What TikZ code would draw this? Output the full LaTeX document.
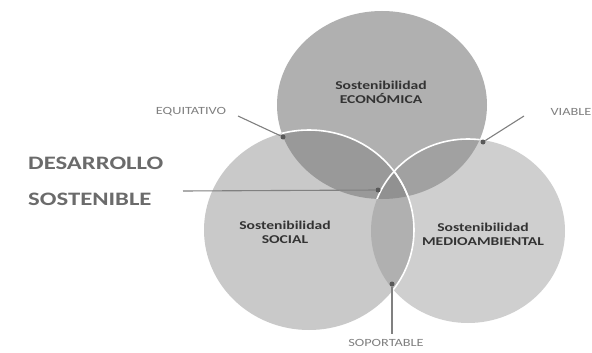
\documentclass[tikz,border=0pt]{standalone}
\usepackage{fontspec}
\setmainfont{Carlito}[FakeStretch=1.3]
\definecolor{ctop}{gray}{0.69}
\definecolor{cleft}{gray}{0.79}
\definecolor{cright}{gray}{0.81}
\definecolor{ctl}{gray}{0.60}
\definecolor{ctr}{gray}{0.63}
\definecolor{clr}{gray}{0.69}
\definecolor{ccen}{gray}{0.57}
\definecolor{ctxt}{gray}{0.2}
\definecolor{cbig}{gray}{0.42}
\definecolor{csmall}{gray}{0.5}
\definecolor{cline}{gray}{0.5}
\newcommand\TopC{(382,105) ellipse [x radius=105, y radius=94]}
\newcommand\LeftC{(309,230) ellipse [x radius=105, y radius=100]}
\newcommand\RightC{(468,231) ellipse [x radius=97, y radius=92]}
\begin{document}
\begin{tikzpicture}[x=1pt,y=-1pt,
  circlabel/.style={align=center, text=ctxt, font=\fontsize{12}{14}\selectfont\bfseries, inner sep=0pt},
  smalllabel/.style={text=csmall, font=\fontsize{11}{12}\selectfont, inner sep=1pt},
  biglabel/.style={text=cbig, align=left, font=\fontsize{19}{36}\selectfont\bfseries, inner sep=0pt},
  pointer/.style={draw=cline, line width=1.1pt},
  dot/.style={circle, fill=gray!70!black, minimum size=5pt, inner sep=0pt},
  edgeline/.style={draw=white, line width=1.6pt}]
\useasboundingbox (0,0) rectangle (592,353);
\fill[white] (0,0) rectangle (592,353);
% circles
\fill[ctop] \TopC;
\fill[cright] \RightC;
\fill[cleft] \LeftC;
\begin{scope}\clip \TopC; \fill[ctl] \LeftC; \fill[ctr] \RightC; \end{scope}
\begin{scope}\clip \LeftC; \fill[clr] \RightC; \end{scope}
\begin{scope}\clip \TopC; \clip \LeftC; \fill[ccen] \RightC; \end{scope}
\begin{scope}\clip \TopC; \path[edgeline] \LeftC; \path[edgeline] \RightC; \end{scope}
\begin{scope}\clip \RightC; \path[edgeline] \LeftC; \end{scope}
% circle labels
\node[circlabel] (eco) at (381,92) {Sostenibilidad\\ECONÓMICA};
\node[circlabel] (soc) at (285,232) {Sostenibilidad\\SOCIAL};
\node[circlabel] (med) at (483,234) {Sostenibilidad\\MEDIOAMBIENTAL};
% pointer labels
\node[smalllabel] (equ) at (191,112) {EQUITATIVO};
\node[smalllabel] (via) at (571,112) {VIABLE};
\node[smalllabel] (sop) at (386,343) {SOPORTABLE};
\node[biglabel, anchor=west] (des) at (28,181) {DESARROLLO\\SOSTENIBLE};
% dots
\node[dot] (d1) at (283,137) {};
\node[dot] (d2) at (483,142) {};
\node[dot] (d3) at (378,190) {};
\node[dot] (d4) at (392,284) {};
\coordinate (desend) at (183,191);
\coordinate (equend) at (238,116);
\coordinate (viaend) at (524,116);
\coordinate (sopend) at (392,334);
\draw[pointer] (equend) -- (d1);
\draw[pointer] (viaend) -- (d2);
\draw[pointer] (desend) -- (d3);
\draw[pointer] (d4) -- (sopend);
\end{tikzpicture}
\end{document}
